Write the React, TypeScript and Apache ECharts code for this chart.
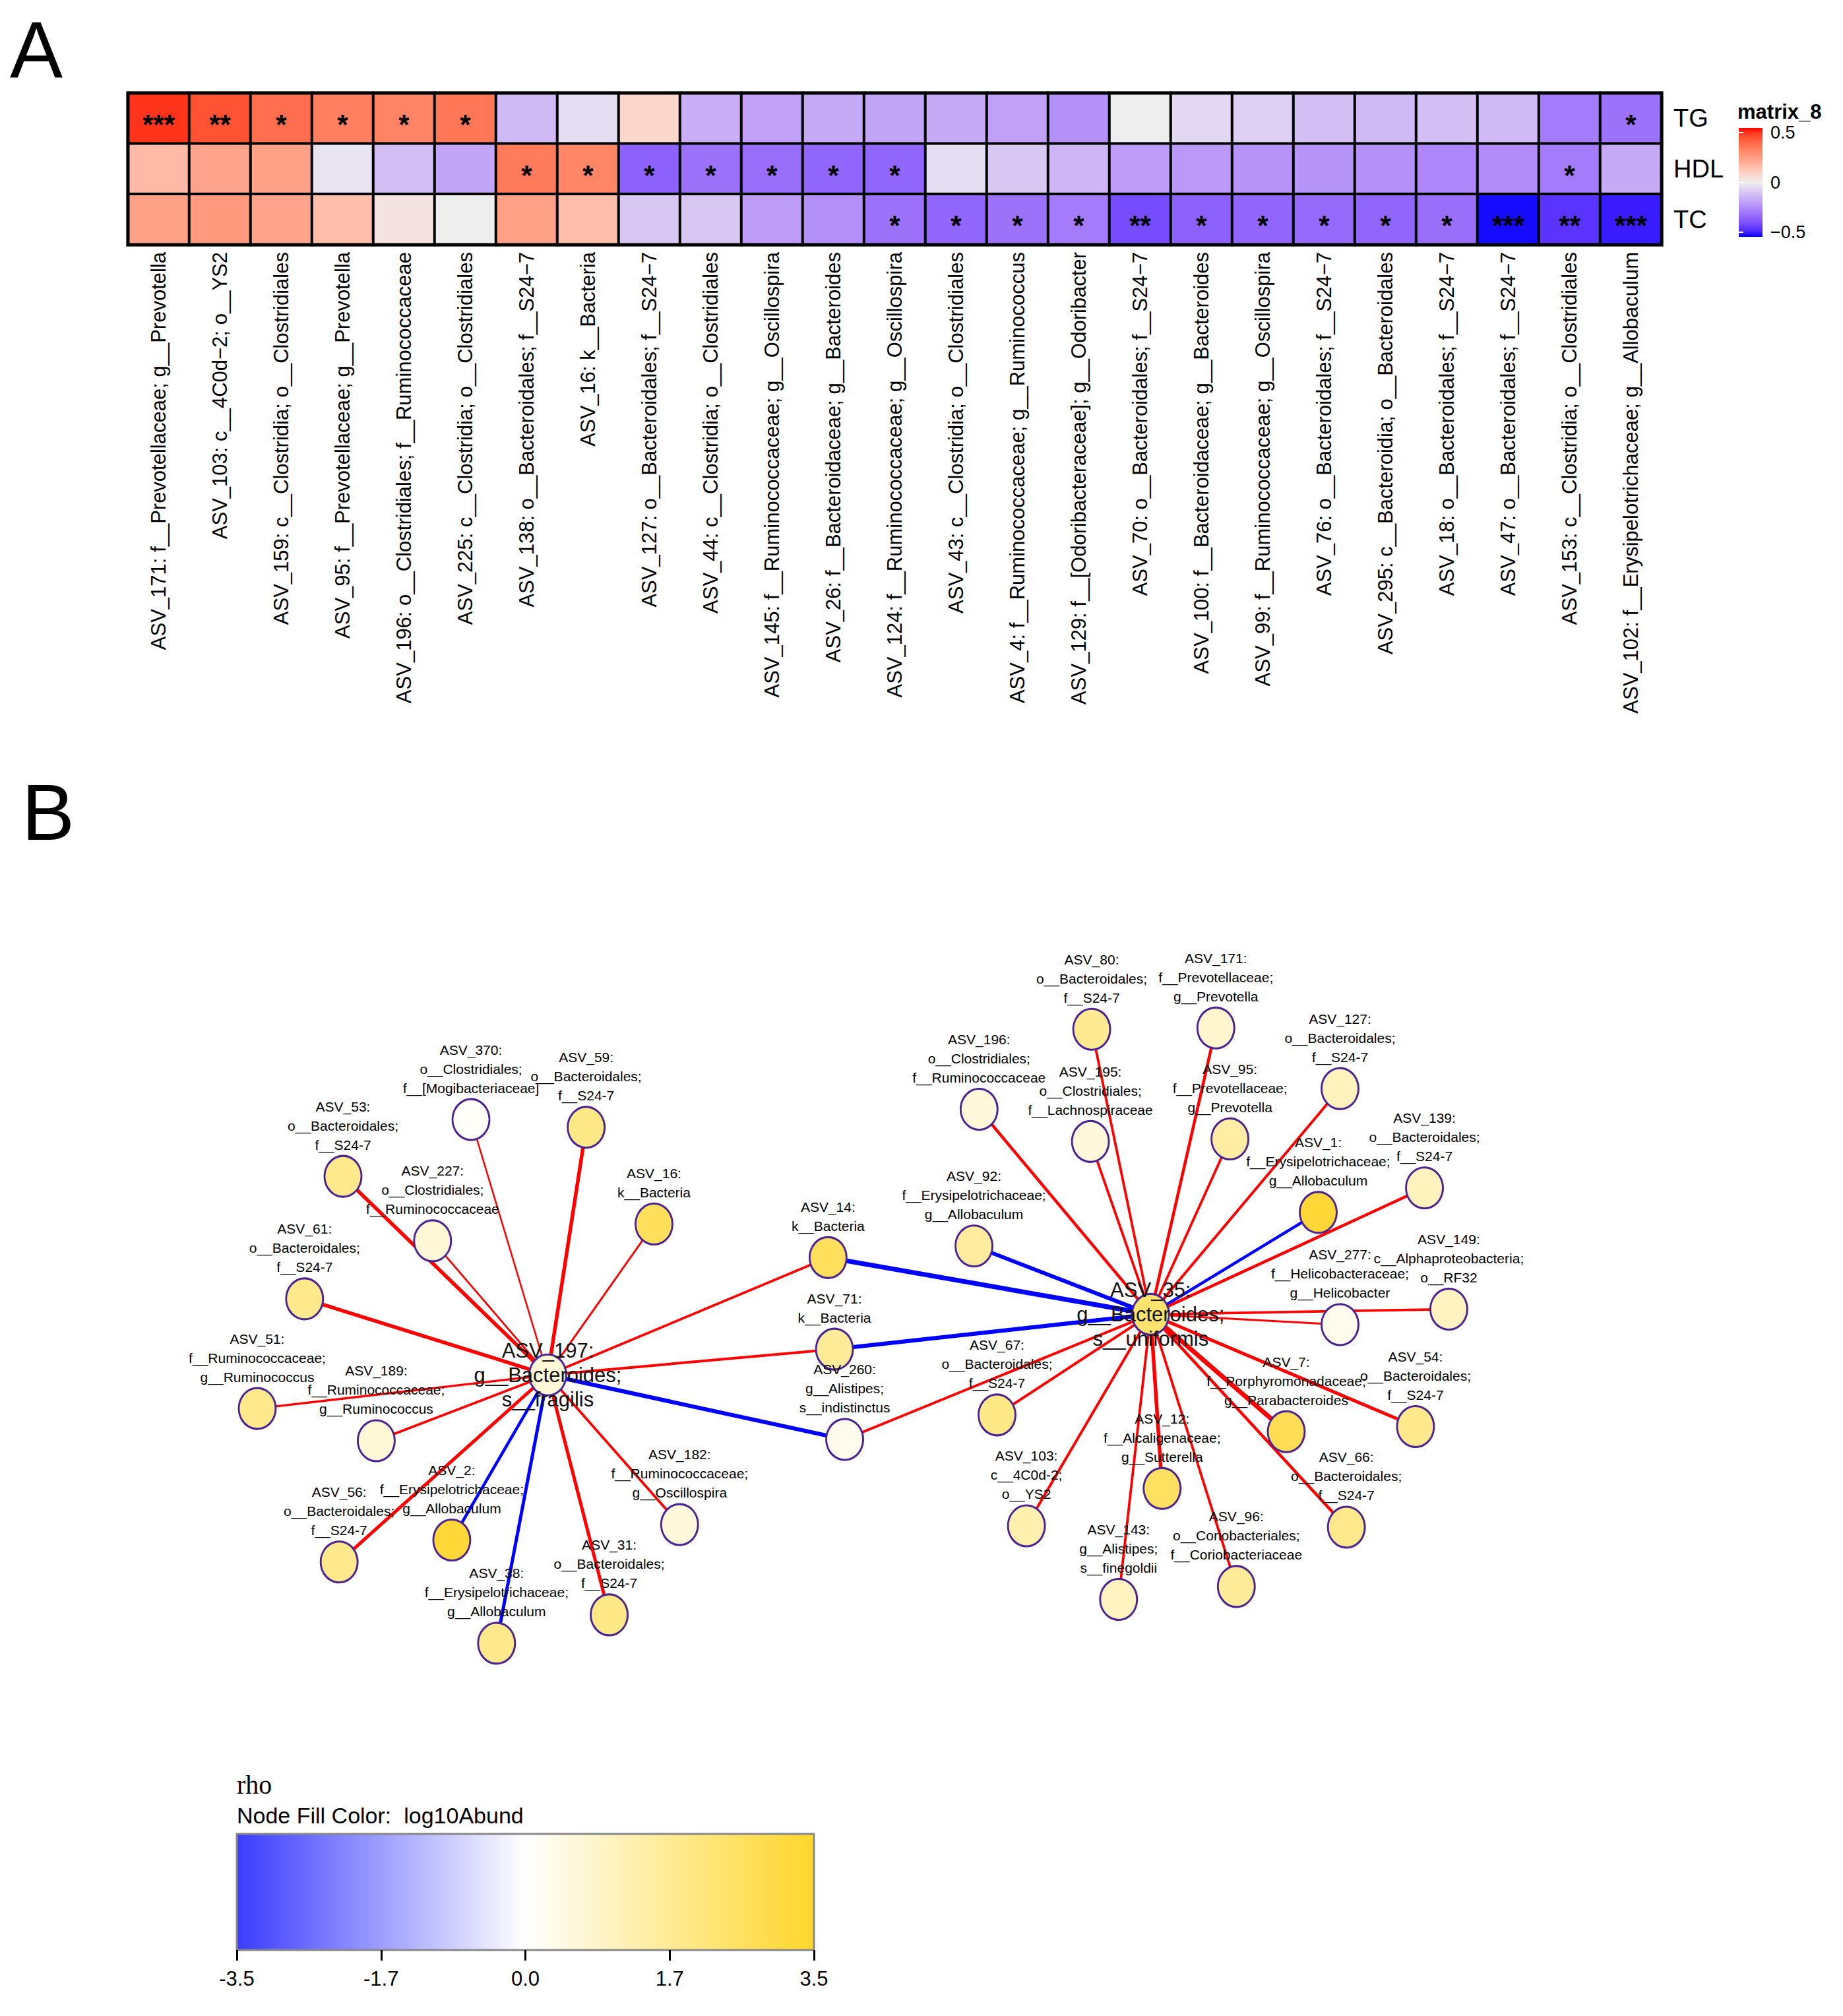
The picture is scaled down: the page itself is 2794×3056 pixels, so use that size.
import React, { useEffect, useRef } from 'react';
import * as echarts from 'echarts';

// ---------- Panel A data ----------
const asvLabels = [
  'ASV_171: f__Prevotellaceae; g__Prevotella',
  'ASV_103: c__4C0d\u22122; o__YS2',
  'ASV_159: c__Clostridia; o__Clostridiales',
  'ASV_95: f__Prevotellaceae; g__Prevotella',
  'ASV_196: o__Clostridiales; f__Ruminococcaceae',
  'ASV_225: c__Clostridia; o__Clostridiales',
  'ASV_138: o__Bacteroidales; f__S24\u22127',
  'ASV_16: k__Bacteria',
  'ASV_127: o__Bacteroidales; f__S24\u22127',
  'ASV_44: c__Clostridia; o__Clostridiales',
  'ASV_145: f__Ruminococcaceae; g__Oscillospira',
  'ASV_26: f__Bacteroidaceae; g__Bacteroides',
  'ASV_124: f__Ruminococcaceae; g__Oscillospira',
  'ASV_43: c__Clostridia; o__Clostridiales',
  'ASV_4: f__Ruminococcaceae; g__Ruminococcus',
  'ASV_129: f__[Odoribacteraceae]; g__Odoribacter',
  'ASV_70: o__Bacteroidales; f__S24\u22127',
  'ASV_100: f__Bacteroidaceae; g__Bacteroides',
  'ASV_99: f__Ruminococcaceae; g__Oscillospira',
  'ASV_76: o__Bacteroidales; f__S24\u22127',
  'ASV_295: c__Bacteroidia; o__Bacteroidales',
  'ASV_18: o__Bacteroidales; f__S24\u22127',
  'ASV_47: o__Bacteroidales; f__S24\u22127',
  'ASV_153: c__Clostridia; o__Clostridiales',
  'ASV_102: f__Erysipelotrichaceae; g__Allobaculum',
];
const traitRows = ['TG', 'HDL', 'TC'];
const tgValues = [0.46, 0.41, 0.35, 0.31, 0.30, 0.33, -0.12, -0.04, 0.07, -0.15, -0.18, -0.16, -0.17, -0.16, -0.18, -0.22, 0.0, -0.05, -0.07, -0.11, -0.12, -0.11, -0.12, -0.27, -0.29];
const hdlValues = [0.15, 0.21, 0.22, -0.02, -0.11, -0.17, 0.32, 0.29, -0.33, -0.29, -0.30, -0.32, -0.32, -0.04, -0.09, -0.13, -0.19, -0.2, -0.21, -0.21, -0.22, -0.24, -0.23, -0.27, -0.16];
const tcValues = [0.22, 0.24, 0.21, 0.14, 0.03, 0.0, 0.22, 0.14, -0.09, -0.09, -0.19, -0.22, -0.29, -0.32, -0.29, -0.27, -0.38, -0.33, -0.32, -0.31, -0.32, -0.3, -0.49, -0.43, -0.47];
const tgStars = ['***', '**', '*', '*', '*', '*', '', '', '', '', '', '', '', '', '', '', '', '', '', '', '', '', '', '', '*'];
const hdlStars = ['', '', '', '', '', '', '*', '*', '*', '*', '*', '*', '*', '', '', '', '', '', '', '', '', '', '', '*', ''];
const tcStars = ['', '', '', '', '', '', '', '', '', '', '', '', '*', '*', '*', '*', '**', '*', '*', '*', '*', '*', '***', '**', '***'];
const heatLegendTicks = ['\u22120.5', '0', '0.5'];

// ---------- Panel B data ----------
// [id, taxonomy, layoutX, layoutY, log10Abund]
const networkNodes: [string, string, number, number, number][] = [
  ['ASV_370', 'o__Clostridiales;\nf__[Mogibacteriaceae]', 368, 868, 0.1],
  ['ASV_59', 'o__Bacteroidales;\nf__S24-7', 458, 874, 2.0],
  ['ASV_53', 'o__Bacteroidales;\nf__S24-7', 268, 912, 1.9],
  ['ASV_227', 'o__Clostridiales;\nf__Ruminococcaceae', 338, 962, 0.7],
  ['ASV_16', 'k__Bacteria', 511, 949, 2.7],
  ['ASV_61', 'o__Bacteroidales;\nf__S24-7', 238, 1007, 1.9],
  ['ASV_51', 'f__Ruminococcaceae;\ng__Ruminococcus', 201, 1092, 1.9],
  ['ASV_189', 'f__Ruminococcaceae;\ng__Ruminococcus', 294, 1117, 0.7],
  ['ASV_56', 'o__Bacteroidales;\nf__S24-7', 265, 1211, 1.9],
  ['ASV_2', 'f__Erysipelotrichaceae;\ng__Allobaculum', 353, 1194, 3.3],
  ['ASV_38', 'f__Erysipelotrichaceae;\ng__Allobaculum', 388, 1274, 1.9],
  ['ASV_31', 'o__Bacteroidales;\nf__S24-7', 476, 1252, 2.0],
  ['ASV_182', 'f__Ruminococcaceae;\ng__Oscillospira', 531, 1182, 0.6],
  ['ASV_14', 'k__Bacteria', 647, 975, 2.7],
  ['ASV_71', 'k__Bacteria', 652, 1046, 1.7],
  ['ASV_260', 'g__Alistipes;\ns__indistinctus', 660, 1116, 0.3],
  ['ASV_80', 'o__Bacteroidales;\nf__S24-7', 853, 798, 1.8],
  ['ASV_171', 'f__Prevotellaceae;\ng__Prevotella', 950, 797, 0.8],
  ['ASV_127', 'o__Bacteroidales;\nf__S24-7', 1047, 844, 1.1],
  ['ASV_196', 'o__Clostridiales;\nf__Ruminococcaceae', 765, 860, 0.6],
  ['ASV_195', 'o__Clostridiales;\nf__Lachnospiraceae', 852, 885, 0.6],
  ['ASV_95', 'f__Prevotellaceae;\ng__Prevotella', 961, 883, 1.5],
  ['ASV_139', 'o__Bacteroidales;\nf__S24-7', 1113, 921, 1.1],
  ['ASV_1', 'f__Erysipelotrichaceae;\ng__Allobaculum', 1030, 940, 3.3],
  ['ASV_92', 'f__Erysipelotrichaceae;\ng__Allobaculum', 761, 966, 1.6],
  ['ASV_149', 'c__Alphaproteobacteria;\no__RF32', 1132, 1015, 1.0],
  ['ASV_277', 'f__Helicobacteraceae;\ng__Helicobacter', 1047, 1027, 0.3],
  ['ASV_54', 'o__Bacteroidales;\nf__S24-7', 1106, 1106, 1.9],
  ['ASV_7', 'f__Porphyromonadaceae;\ng__Parabacteroides', 1005, 1110, 2.8],
  ['ASV_67', 'o__Bacteroidales;\nf__S24-7', 779, 1097, 2.0],
  ['ASV_12', 'f__Alcaligenaceae;\ng__Sutterella', 908, 1154, 2.6],
  ['ASV_66', 'o__Bacteroidales;\nf__S24-7', 1052, 1184, 1.9],
  ['ASV_103', 'c__4C0d-2;\no__YS2', 802, 1183, 1.3],
  ['ASV_96', 'o__Coriobacteriales;\nf__Coriobacteriaceae', 966, 1230, 1.7],
  ['ASV_143', 'g__Alistipes;\ns__finegoldii', 874, 1240, 1.0],
  ['ASV_197', 'g__Bacteroides;\ns__fragilis', 428, 1066, 0.7],
  ['ASV_35', 'g__Bacteroides;\ns__uniformis', 899, 1019, 2.4],
];
const hubNodes = ['ASV_197', 'ASV_35'];
// [source, target, rho]
const networkEdges: [string, string, number][] = [
  ['ASV_197', 'ASV_370', 0.25],
  ['ASV_197', 'ASV_59', 0.55],
  ['ASV_197', 'ASV_53', 0.55],
  ['ASV_197', 'ASV_227', 0.28],
  ['ASV_197', 'ASV_16', 0.3],
  ['ASV_197', 'ASV_61', 0.55],
  ['ASV_197', 'ASV_51', 0.33],
  ['ASV_197', 'ASV_189', 0.38],
  ['ASV_197', 'ASV_56', 0.5],
  ['ASV_197', 'ASV_2', -0.45],
  ['ASV_197', 'ASV_38', -0.5],
  ['ASV_197', 'ASV_31', 0.5],
  ['ASV_197', 'ASV_182', 0.38],
  ['ASV_197', 'ASV_14', 0.38],
  ['ASV_197', 'ASV_71', 0.4],
  ['ASV_197', 'ASV_260', -0.62],
  ['ASV_35', 'ASV_14', -0.72],
  ['ASV_35', 'ASV_71', -0.62],
  ['ASV_35', 'ASV_92', -0.6],
  ['ASV_35', 'ASV_260', 0.4],
  ['ASV_35', 'ASV_80', 0.38],
  ['ASV_35', 'ASV_171', 0.45],
  ['ASV_35', 'ASV_127', 0.4],
  ['ASV_35', 'ASV_196', 0.45],
  ['ASV_35', 'ASV_195', 0.38],
  ['ASV_35', 'ASV_95', 0.38],
  ['ASV_35', 'ASV_1', -0.45],
  ['ASV_35', 'ASV_139', 0.45],
  ['ASV_35', 'ASV_149', 0.38],
  ['ASV_35', 'ASV_277', 0.3],
  ['ASV_35', 'ASV_54', 0.5],
  ['ASV_35', 'ASV_7', 0.7],
  ['ASV_35', 'ASV_66', 0.45],
  ['ASV_35', 'ASV_67', 0.4],
  ['ASV_35', 'ASV_12', 0.55],
  ['ASV_35', 'ASV_103', 0.4],
  ['ASV_35', 'ASV_96', 0.38],
  ['ASV_35', 'ASV_143', 0.38],
];
const abundTicks = ['-3.5', '-1.7', '0.0', '1.7', '3.5'];

// ---------- colour helpers ----------
const W = 2794;
const H = 3056;
const SANS = "'Liberation Sans', Arial, Helvetica, sans-serif";
const SERIF = "'Liberation Serif', 'Times New Roman', serif";

const hexToRgb = (h: string) => [1, 3, 5].map((i) => parseInt(h.slice(i, i + 2), 16));
const toLin = (c: number) => {
  const v = c / 255;
  return v <= 0.04045 ? v / 12.92 : Math.pow((v + 0.055) / 1.055, 2.4);
};
const fromLin = (c: number) => {
  const v = c <= 0.0031308 ? 12.92 * c : 1.055 * Math.pow(c, 1 / 2.4) - 0.055;
  return Math.round(Math.min(1, Math.max(0, v)) * 255);
};
const WP = [0.95047, 1, 1.08883];
const fLab = (t: number) => (t > 216 / 24389 ? Math.cbrt(t) : ((24389 / 27) * t + 16) / 116);
const fInv = (t: number) => {
  const t3 = t * t * t;
  return t3 > 216 / 24389 ? t3 : (116 * t - 16) / (24389 / 27);
};
function hexToLab(h: string) {
  const [r, g, b] = hexToRgb(h).map(toLin);
  const X = (0.4124564 * r + 0.3575761 * g + 0.1804375 * b) / WP[0];
  const Y = (0.2126729 * r + 0.7151522 * g + 0.072175 * b) / WP[1];
  const Z = (0.0193339 * r + 0.119192 * g + 0.9503041 * b) / WP[2];
  const fx = fLab(X), fy = fLab(Y), fz = fLab(Z);
  return [116 * fy - 16, 500 * (fx - fy), 200 * (fy - fz)];
}
function labToHex(lab: number[]) {
  const [L, a, b] = lab;
  const fy = (L + 16) / 116;
  const fx = fy + a / 500;
  const fz = fy - b / 200;
  const X = WP[0] * fInv(fx), Y = WP[1] * fInv(fy), Z = WP[2] * fInv(fz);
  const r = 3.2404542 * X - 1.5371385 * Y - 0.4985314 * Z;
  const g = -0.969266 * X + 1.8760108 * Y + 0.041556 * Z;
  const bb = 0.0556434 * X - 0.2040259 * Y + 1.0572252 * Z;
  return '#' + [r, g, bb].map((c) => fromLin(c).toString(16).padStart(2, '0')).join('');
}
const LAB_BLUE = hexToLab('#0000ff');
const LAB_MID = hexToLab('#eeeeee');
const LAB_RED = hexToLab('#ff0000');
function heatColor(v: number) {
  const c = Math.max(-0.5, Math.min(0.5, v));
  const [from, to, t] = c <= 0 ? [LAB_MID, LAB_BLUE, -c / 0.5] : [LAB_MID, LAB_RED, c / 0.5];
  return labToHex(from.map((x, i) => x + (to[i] - x) * t));
}
function mixHex(a: string, b: string, t: number) {
  const A = hexToRgb(a), B = hexToRgb(b);
  return '#' + A.map((x, i) => Math.round(x + (B[i] - x) * t).toString(16).padStart(2, '0')).join('');
}
const ABUND_LOW = '#3c3cff';
const ABUND_MID = '#ffffff';
const ABUND_HIGH = '#ffd62b';
function abundColor(v: number) {
  const c = Math.max(-3.5, Math.min(3.5, v));
  return c <= 0 ? mixHex(ABUND_MID, ABUND_LOW, -c / 3.5) : mixHex(ABUND_MID, ABUND_HIGH, c / 3.5);
}

function buildOption() {
  const rows = [tgValues, hdlValues, tcValues];
  const stars = [tgStars, hdlStars, tcStars];
  const heatData: number[][] = [];
  rows.forEach((vals, r) => vals.forEach((v, c) => heatData.push([c, r, v])));
  const heatStops = Array.from({ length: 41 }, (_, i) => heatColor(-0.5 + i * 0.025));

  const nodeById: Record<string, [string, string, number, number, number]> = {};
  networkNodes.forEach((n) => (nodeById[n[0]] = n));

  const edgeData = networkEdges.map(([s, t, rho]) => ({
    coords: [
      [nodeById[s][2], nodeById[s][3]],
      [nodeById[t][2], nodeById[t][3]],
    ],
    lineStyle: { color: rho > 0 ? '#ff0000' : '#0000ff', width: Math.abs(rho) * 10, opacity: 1 },
  }));

  const nodeData = networkNodes.map(([id, taxa, x, y, ab]) => {
    const hub = hubNodes.includes(id);
    const item: any = {
      name: id,
      value: [x, y, ab],
      symbolSize: [56, 62],
      itemStyle: { color: abundColor(ab), borderColor: '#4b2490', borderWidth: 3, opacity: 1 },
    };
    if (hub) {
      item.label = { position: 'inside', fontSize: 31, lineHeight: 37, color: '#111' };
    }
    return item;
  });
  const taxaById: Record<string, string> = {};
  networkNodes.forEach((n) => (taxaById[n[0]] = n[1]));

  const heatLegendGradient = new echarts.graphic.LinearGradient(
    0, 0, 0, 1,
    Array.from({ length: 21 }, (_, i) => ({ offset: i / 20, color: heatColor(0.5 - i * 0.05) }))
  );
  const abundGradient = new echarts.graphic.LinearGradient(0, 0, 1, 0, [
    { offset: 0, color: ABUND_LOW },
    { offset: 0.5, color: ABUND_MID },
    { offset: 1, color: ABUND_HIGH },
  ]);

  return {
    animation: false,
    backgroundColor: '#ffffff',
    textStyle: { fontFamily: SANS },
    grid: [
      { left: 194, top: 141, width: 2325, height: 230 },
      { left: 0, top: 0, width: W, height: H },
      { left: 2636, top: 201, width: 36, height: 151 },
      { left: 359, top: 2780, width: 875, height: 176 },
    ],
    xAxis: [
      {
        type: 'category',
        gridIndex: 0,
        data: asvLabels,
        position: 'bottom',
        axisLine: { show: false },
        axisTick: { show: false },
        splitLine: { show: false },
        axisLabel: { rotate: 90, interval: 0, fontSize: 31, color: '#000', margin: 11, fontFamily: SANS },
      },
      { type: 'value', gridIndex: 1, min: 0, max: 1440, show: false },
      { type: 'value', gridIndex: 2, min: 0, max: 1, show: false },
      {
        type: 'value',
        gridIndex: 3,
        min: -3.5,
        max: 3.5,
        interval: 1.75,
        position: 'bottom',
        axisLine: { show: false },
        splitLine: { show: false },
        axisTick: { show: true, length: 16, lineStyle: { color: '#000', width: 3 } },
        axisLabel: {
          showMinLabel: true,
          showMaxLabel: true,
          fontSize: 31,
          color: '#000',
          margin: 28,
          fontFamily: SANS,
          formatter: (v: number) => abundTicks[Math.round((v + 3.5) / 1.75)] ?? '',
        },
      },
    ],
    yAxis: [
      {
        type: 'category',
        gridIndex: 0,
        data: traitRows,
        inverse: true,
        position: 'right',
        axisLine: { show: false },
        axisTick: { show: false },
        splitLine: { show: false },
        axisLabel: { fontSize: 38, color: '#000', margin: 18, fontFamily: SANS },
      },
      { type: 'value', gridIndex: 1, min: 0, max: 1563, inverse: true, show: false },
      {
        type: 'value',
        gridIndex: 2,
        min: -0.5,
        max: 0.5,
        interval: 0.5,
        position: 'right',
        axisLine: { show: false },
        splitLine: { show: false },
        axisTick: { show: true, inside: true, length: 7, lineStyle: { color: '#ffffff', width: 2 } },
        axisLabel: {
          showMinLabel: true,
          showMaxLabel: true,
          fontSize: 27,
          color: '#000',
          margin: 12,
          fontFamily: SANS,
          formatter: (v: number) => heatLegendTicks[Math.round((v + 0.5) / 0.5)] ?? '',
        },
      },
      { type: 'value', gridIndex: 3, min: 0, max: 1, show: false },
      {
        type: 'value',
        gridIndex: 2,
        min: -0.5,
        max: 0.5,
        interval: 0.5,
        position: 'left',
        axisLine: { show: false },
        splitLine: { show: false },
        axisLabel: { show: false },
        axisTick: { show: true, inside: true, length: 7, lineStyle: { color: '#ffffff', width: 2 } },
      },
    ],
    visualMap: [
      {
        type: 'continuous',
        show: false,
        min: -0.5,
        max: 0.5,
        dimension: 2,
        seriesIndex: 0,
        inRange: { color: heatStops },
      },
    ],
    series: [
      {
        type: 'heatmap',
        xAxisIndex: 0,
        yAxisIndex: 0,
        data: heatData,
        itemStyle: { borderColor: '#000', borderWidth: 4 },
        emphasis: { disabled: true },
        label: {
          show: true,
          color: '#000',
          fontSize: 42,
          fontWeight: 'bold',
          fontFamily: SANS,
          offset: [0, 9],
          formatter: (p: any) => stars[p.value[1]][p.value[0]],
        },
        z: 2,
      },
      {
        type: 'lines',
        coordinateSystem: 'cartesian2d',
        xAxisIndex: 1,
        yAxisIndex: 1,
        polyline: false,
        lineStyle: { opacity: 1, curveness: 0 },
        data: edgeData,
        silent: true,
        z: 3,
      },
      {
        type: 'scatter',
        xAxisIndex: 1,
        yAxisIndex: 1,
        symbol: 'circle',
        data: nodeData,
        silent: true,
        z: 4,
        itemStyle: { opacity: 1 },
        label: {
          show: true,
          position: 'top',
          distance: 1,
          fontSize: 21,
          lineHeight: 29,
          color: '#000',
          fontFamily: SANS,
          align: 'center',
          formatter: (p: any) => `${p.name}:\n${taxaById[p.name]}`,
        },
      },
    ],
    graphic: [
      {
        type: 'text',
        x: 15,
        y: 75,
        style: { text: 'A', fontSize: 120, fontFamily: SANS, fill: '#000', textAlign: 'left', textVerticalAlign: 'middle' },
      },
      {
        type: 'text',
        x: 33,
        y: 1231,
        style: { text: 'B', fontSize: 120, fontFamily: SANS, fill: '#000', textAlign: 'left', textVerticalAlign: 'middle' },
      },
      {
        type: 'rect',
        z: 100,
        shape: { x: 194, y: 141, width: 2325, height: 230 },
        style: { fill: 'none', stroke: '#000', lineWidth: 5 },
        silent: true,
      },
      {
        type: 'text',
        x: 2634,
        y: 169,
        style: { text: 'matrix_8', fontSize: 31, fontWeight: 'bold', fontFamily: SANS, fill: '#000', textAlign: 'left', textVerticalAlign: 'middle' },
      },
      {
        type: 'rect',
        z: -1,
        shape: { x: 2636, y: 194, width: 36, height: 165 },
        style: { fill: heatLegendGradient },
        silent: true,
      },
      {
        type: 'text',
        x: 359,
        y: 2705,
        style: { text: 'rho', fontSize: 40, fontFamily: SERIF, fill: '#000', textAlign: 'left', textVerticalAlign: 'middle' },
      },
      {
        type: 'text',
        x: 359,
        y: 2752,
        style: { text: 'Node Fill Color:  log10Abund', fontSize: 34, fontFamily: SANS, fill: '#000', textAlign: 'left', textVerticalAlign: 'middle' },
      },
      {
        type: 'rect',
        shape: { x: 359, y: 2780, width: 875, height: 176 },
        style: { fill: abundGradient, stroke: '#888888', lineWidth: 3 },
        silent: true,
      },
    ],
  };
}

export default function App() {
  const ref = useRef<HTMLDivElement>(null);
  useEffect(() => {
    if (!ref.current) return;
    const chart = echarts.init(ref.current, undefined, { renderer: 'svg' });
    chart.setOption(buildOption() as any);
    return () => chart.dispose();
  }, []);
  return (
    <div
      ref={ref}
      style={{ position: 'absolute', left: 0, top: 0, width: W, height: H, background: '#fff' }}
    />
  );
}
